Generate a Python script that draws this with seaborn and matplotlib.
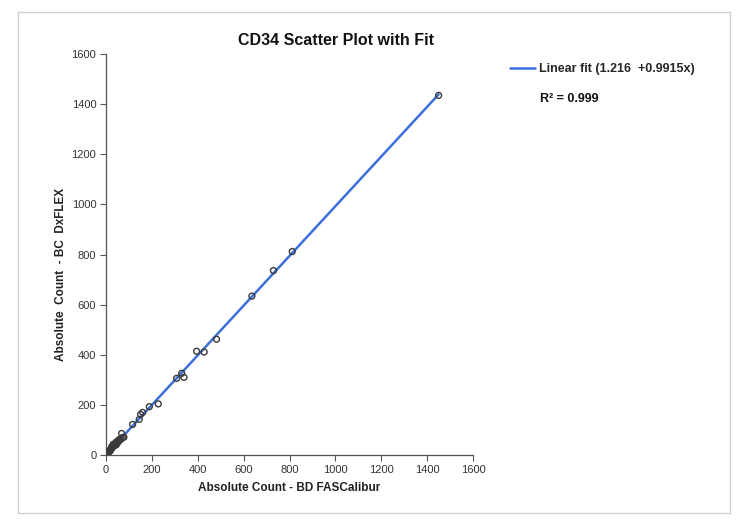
import matplotlib
matplotlib.use("Agg")
import matplotlib.pyplot as plt
import seaborn as sns
import numpy as np
import pandas as pd
from matplotlib.patches import Rectangle

# Data
bd_facscalibur = [5, 8, 11, 14, 15, 18, 20, 22, 25, 27, 30, 32, 35, 38, 40, 44, 46, 50, 55, 58, 61, 66, 68, 72, 78,
                  116, 145, 151, 160, 189, 228, 308, 330, 340, 395, 428, 482, 636, 730, 812, 1450]
bc_dxflex = [6, 9, 10, 16, 13, 20, 19, 25, 33, 28, 35, 43, 38, 40, 45, 40, 53, 48, 55, 62, 60, 64, 86, 70, 71,
             122, 142, 162, 170, 193, 204, 306, 326, 310, 414, 411, 462, 634, 736, 812, 1435]
fit_intercept = 1.216
fit_slope = 0.9915
r_squared = 0.999
x_ticks = [0, 200, 400, 600, 800, 1000, 1200, 1400, 1600]
y_ticks = [0, 200, 400, 600, 800, 1000, 1200, 1400, 1600]

df = pd.DataFrame({"x": bd_facscalibur, "y": bc_dxflex})
fx = np.array([min(bd_facscalibur), max(bd_facscalibur)], dtype=float)
fit_df = pd.DataFrame({"x": fx, "y": fit_intercept + fit_slope * fx})

sns.set_theme(style="white")
plt.rcParams['font.family'] = ['Liberation Sans Narrow', 'Liberation Sans', 'DejaVu Sans']

fig = plt.figure(figsize=(7.5, 5.27), dpi=100)
ax = fig.add_axes([0.1413, 0.1366, 0.4894, 0.7609])

# outer frame
fig.patches.append(Rectangle((0.024, 0.0266), 0.949, 0.950, transform=fig.transFigure,
                             fill=False, edgecolor="#d0d0d0", linewidth=1.0))

line_color = "#3d6fdb"
sns.lineplot(data=fit_df, x="x", y="y", ax=ax, color=line_color, linewidth=1.8,
             label=f"Linear fit ({fit_intercept}  +{fit_slope}x)", zorder=2)
sns.scatterplot(data=df, x="x", y="y", ax=ax, marker="o", s=18, facecolor="none",
                edgecolor="#3a3a3a", linewidth=1.0, zorder=3, legend=False)

ax.set_xlim(0, 1600)
ax.set_ylim(0, 1600)
ax.set_xticks(x_ticks)
ax.set_yticks(y_ticks)
ax.tick_params(axis="both", which="major", direction="out", length=4, width=0.8,
               color="#555555", labelsize=8, labelcolor="#333333", pad=3,
               bottom=True, left=True)
for s in ["top", "right"]:
    ax.spines[s].set_visible(False)
for s in ["left", "bottom"]:
    ax.spines[s].set_color("#555555")
    ax.spines[s].set_linewidth(0.9)

ax.set_xlabel("Absolute Count - BD FASCalibur", fontsize=8.5, fontweight="bold", color="#222222", labelpad=5)
ax.set_ylabel("Absolute  Count  - BC  DxFLEX", fontsize=8.5, fontweight="bold", color="#222222", labelpad=6)
ax.yaxis.set_label_coords(-0.105, 0.45)
fig.text(0.448, 0.924, "CD34 Scatter Plot with Fit", ha="center", va="center",
         fontsize=11.5, fontweight="bold", color="#111111")

leg = ax.legend(loc="upper left", bbox_to_anchor=(1.07, 1.005), frameon=False,
                prop={"size": 9, "weight": "bold"}, handlelength=2.0, handletextpad=0.3)
fig.text(0.72, 0.812, f"R² = {r_squared}", fontsize=9, fontweight="bold", color="#111111",
         ha="left", va="center")

fig.savefig("out.png", dpi=100)
